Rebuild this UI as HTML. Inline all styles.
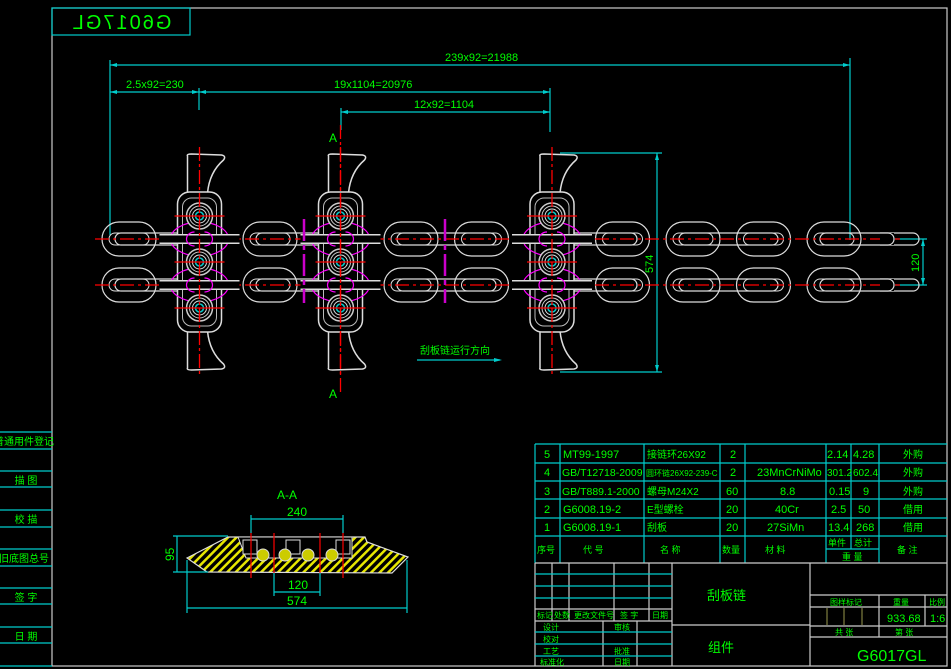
<!DOCTYPE html>
<html><head><meta charset="utf-8"><style>
html,body{margin:0;padding:0;background:#000;}
svg{display:block}
text{font-family:"Liberation Sans","Noto Sans CJK SC",sans-serif;fill:#00ff00;}
</style></head><body>
<svg width="951" height="669" viewBox="0 0 951 669" xmlns="http://www.w3.org/2000/svg">
<defs>
<pattern id="h" width="6" height="6" patternUnits="userSpaceOnUse" patternTransform="rotate(45)">
<rect width="6" height="6" fill="#000"/><rect width="2.5" height="6" fill="#e6e600"/></pattern>
<g id="ov"><rect x="-27" y="-17" width="54" height="34" rx="17" fill="none" stroke="#ddd" stroke-width="1.2"/><rect x="-20" y="-6" width="40" height="12" rx="6" fill="none" stroke="#ddd" stroke-width="1"/></g>
<g id="bar"><rect x="-14" y="-6" width="99" height="12" rx="6" fill="none" stroke="#ddd" stroke-width="1.2"/></g>
<g id="bolt"><circle r="13" fill="#000" stroke="#ccc" stroke-width="1.5"/><circle r="10" fill="none" stroke="#ccc"/><circle r="7" fill="none" stroke="#ddd"/><circle r="4" fill="none" stroke="#0cc" stroke-width="1.5"/><line x1="-25" y1="0" x2="25" y2="0" stroke="#f00" stroke-width="1.3"/></g>
<g id="sc">
<path d="M-12 -106 Q-13 -108 -8 -108 L22 -107 Q27 -106 24 -102 Q10 -90 8 -69 L-12 -69 Z" fill="#000" stroke="#ddd" stroke-width="1.5"/>
<path d="M-12 106 Q-13 108 -8 108 L22 107 Q27 106 24 102 Q10 90 8 69 L-12 69 Z" fill="#000" stroke="#ddd" stroke-width="1.5"/>
<rect x="-22" y="-70" width="44" height="140" rx="12" fill="#000" stroke="#ddd" stroke-width="1.5"/>
<rect x="-17" y="-64" width="34" height="128" rx="9" fill="none" stroke="#bbb"/>
<ellipse cx="0" cy="-23" rx="29" ry="17" fill="none" stroke="#f0f" stroke-width="1.2"/>
<ellipse cx="0" cy="23" rx="29" ry="17" fill="none" stroke="#f0f" stroke-width="1.2"/>
<line x1="-40" y1="-23" x2="40" y2="-23" stroke="#ddd" stroke-width="10"/>
<line x1="-40" y1="-23" x2="40" y2="-23" stroke="#000" stroke-width="7"/>
<line x1="-40" y1="23" x2="40" y2="23" stroke="#ddd" stroke-width="10"/>
<line x1="-40" y1="23" x2="40" y2="23" stroke="#000" stroke-width="7"/>
<path d="M-5 -30 A8 7 0 0 0 -5 -16 M5 -30 A8 7 0 0 1 5 -16 M-5 16 A8 7 0 0 0 -5 30 M5 16 A8 7 0 0 1 5 30" fill="none" stroke="#f0f" stroke-width="1.2"/>
<use href="#bolt" y="-46"/><use href="#bolt" y="0"/><use href="#bolt" y="46"/>
<line x1="0" y1="-115" x2="0" y2="115" stroke="#f00" stroke-width="1.3" stroke-dasharray="14 3 3 3"/>
</g>
</defs>
<rect x="52" y="8" width="895" height="658" fill="none" stroke="#ccc" stroke-width="1.2"/>
<rect x="52" y="8" width="138" height="27" fill="none" stroke="#0cc" stroke-width="1.2"/>
<text x="121" y="29" font-size="20" text-anchor="middle" transform="scale(-1,1) translate(-242,0)" style="letter-spacing:2px">G6017GL</text>
<g stroke="#0cc" stroke-width="1.2">
<line x1="0" y1="432" x2="52" y2="432"/><line x1="0" y1="449" x2="52" y2="449"/>
<line x1="0" y1="471" x2="52" y2="471"/><line x1="0" y1="487" x2="52" y2="487"/>
<line x1="0" y1="510" x2="52" y2="510"/><line x1="0" y1="527" x2="52" y2="527"/>
<line x1="0" y1="549" x2="52" y2="549"/><line x1="0" y1="566" x2="52" y2="566"/>
<line x1="0" y1="588" x2="52" y2="588"/><line x1="0" y1="604" x2="52" y2="604"/>
<line x1="0" y1="627" x2="52" y2="627"/><line x1="0" y1="643" x2="52" y2="643"/>
<line x1="0" y1="666" x2="52" y2="666"/>
</g>
<g font-size="10" text-anchor="middle">
<text x="24" y="445">普通用件登记</text><text x="26" y="484">描 图</text><text x="26" y="523">校 描</text>
<text x="24" y="562">旧底图总号</text><text x="26" y="601">签 字</text><text x="26" y="640">日 期</text>
</g>
<g stroke="#0cc" stroke-width="1.2" fill="none">
<line x1="110" y1="60" x2="110" y2="235"/><line x1="850" y1="58" x2="850" y2="240"/>
<line x1="110" y1="65" x2="850" y2="65"/>
<line x1="110" y1="92" x2="550" y2="92"/><line x1="199" y1="88" x2="199" y2="110"/>
<line x1="550" y1="88" x2="550" y2="132"/>
<line x1="341" y1="108" x2="341" y2="130"/><line x1="341" y1="112" x2="550" y2="112"/>
<line x1="560" y1="153" x2="662" y2="153"/><line x1="560" y1="372" x2="662" y2="372"/>
<line x1="657" y1="153" x2="657" y2="372"/>
<line x1="895" y1="239" x2="927" y2="239"/><line x1="895" y1="285" x2="927" y2="285"/>
<line x1="923" y1="239" x2="923" y2="285"/>
<line x1="417" y1="360" x2="500" y2="360"/>
</g>
<g fill="#0cc"><path d="M110 65 l7 -2 v4z M850 65 l-7 -2 v4z M110 92 l7 -2 v4z M199 92 l-7 -2 v4z M199 92 l7 -2 v4z M550 92 l-7 -2 v4z M341 112 l7 -2 v4z M550 112 l-7 -2 v4z M657 153 l-2 7 h4z M657 372 l-2 -7 h4z M923 239 l-2 7 h4z M923 285 l-2 -7 h4z M502 360 l-8 -2 v4z"/></g>
<g font-size="11">
<text x="445" y="61">239x92=21988</text>
<text x="126" y="88">2.5x92=230</text>
<text x="334" y="88">19x1104=20976</text>
<text x="414" y="108">12x92=1104</text>
<text x="0" y="0" transform="translate(653,273) rotate(-90)">574</text>
<text x="0" y="0" transform="translate(919,272) rotate(-90)">120</text>
<text x="420" y="354" font-size="10">刮板链运行方向</text>
<text x="329" y="142" font-size="12">A</text><text x="329" y="398" font-size="12">A</text>
</g>
<g>
<g transform="translate(0,239)">
<use href="#bar" x="129"/><use href="#bar" x="270"/><use href="#bar" x="411"/><use href="#bar" x="552"/><use href="#bar" x="693"/><use href="#bar" x="834"/>
<use href="#ov" x="129"/><use href="#ov" x="270"/><use href="#ov" x="411"/><use href="#ov" x="481.5"/><use href="#ov" x="622.5"/><use href="#ov" x="693"/><use href="#ov" x="763.5"/><use href="#ov" x="834"/>
<line x1="95" y1="0" x2="900" y2="0" stroke="#f00" stroke-dasharray="14 4 3 4" stroke-width="1.2"/>
</g>
<g transform="translate(0,285)">
<use href="#bar" x="129"/><use href="#bar" x="270"/><use href="#bar" x="411"/><use href="#bar" x="552"/><use href="#bar" x="693"/><use href="#bar" x="834"/>
<use href="#ov" x="129"/><use href="#ov" x="270"/><use href="#ov" x="411"/><use href="#ov" x="481.5"/><use href="#ov" x="622.5"/><use href="#ov" x="693"/><use href="#ov" x="763.5"/><use href="#ov" x="834"/>
<line x1="95" y1="0" x2="900" y2="0" stroke="#f00" stroke-dasharray="14 4 3 4" stroke-width="1.2"/>
</g>
<rect x="880" y="233" width="14" height="12" fill="#000"/><rect x="880" y="279" width="14" height="12" fill="#000"/>
<path d="M880 233 h8 a6 6 0 0 1 0 12 h-8 M880 279 h8 a6 6 0 0 1 0 12 h-8" fill="none" stroke="#ddd" stroke-width="1.2"/>
</g>
<use href="#sc" x="199.5" y="262"/><use href="#sc" x="340.5" y="262"/><use href="#sc" x="552" y="262"/>
<g stroke="#c0c" stroke-width="2.5" stroke-dasharray="22 4 5 4">
<line x1="304" y1="219" x2="304" y2="303"/><line x1="445" y1="219" x2="445" y2="303"/>
</g>
<line x1="340.5" y1="125" x2="340.5" y2="392" stroke="#f00" stroke-width="1.3" stroke-dasharray="14 3 3 3"/>
<text x="277" y="499" font-size="12">A-A</text>
<path d="M187 558 L228 537 L365 537 L367 542 L408 557 L392 573 L207 572 Z" fill="url(#h)" stroke="#ddd" stroke-width="1.2"/>
<path d="M238 537 L352 537 L352 558 L246 558 Z" fill="#000" stroke="#ddd"/>
<g fill="#000" stroke="#ddd">
<rect x="243" y="540" width="14" height="14"/><rect x="286" y="540" width="14" height="14"/><rect x="336" y="540" width="14" height="14"/>
</g>
<g fill="#cc0" stroke="#ddd"><circle cx="263" cy="555" r="6"/><circle cx="285" cy="555" r="6"/><circle cx="308" cy="555" r="6"/><circle cx="332" cy="555" r="6"/></g>
<g stroke="#f00" stroke-width="1.2"><line x1="251" y1="530" x2="251" y2="578"/><line x1="343" y1="530" x2="343" y2="578"/><line x1="274" y1="533" x2="274" y2="573"/><line x1="320" y1="533" x2="320" y2="573"/></g>
<g stroke="#0cc" stroke-width="1.2" fill="none">
<line x1="251" y1="515" x2="251" y2="533"/><line x1="343" y1="515" x2="343" y2="533"/><line x1="251" y1="519" x2="343" y2="519"/>
<line x1="274" y1="573" x2="274" y2="596"/><line x1="320" y1="573" x2="320" y2="596"/><line x1="274" y1="592" x2="320" y2="592"/>
<line x1="187" y1="560" x2="187" y2="613"/><line x1="407" y1="560" x2="407" y2="613"/><line x1="187" y1="608" x2="407" y2="608"/>
<line x1="173" y1="536" x2="228" y2="536"/><line x1="173" y1="572" x2="208" y2="572"/><line x1="177" y1="536" x2="177" y2="572"/>
</g>
<g font-size="12">
<text x="287" y="516">240</text><text x="288" y="589">120</text><text x="287" y="605">574</text>
<text x="0" y="0" transform="translate(174,561) rotate(-90)">95</text>
</g>
<g stroke="#0cc" stroke-width="1.2" fill="none">
<line x1="535" y1="444" x2="947" y2="444"/><line x1="535" y1="463" x2="947" y2="463"/>
<line x1="535" y1="481" x2="947" y2="481"/><line x1="535" y1="499" x2="947" y2="499"/>
<line x1="535" y1="518" x2="947" y2="518"/><line x1="535" y1="536" x2="947" y2="536"/>
<line x1="826" y1="549" x2="879" y2="549"/>
<line x1="535" y1="444" x2="535" y2="563"/><line x1="560" y1="444" x2="560" y2="563"/>
<line x1="644" y1="444" x2="644" y2="563"/><line x1="720" y1="444" x2="720" y2="563"/>
<line x1="745" y1="444" x2="745" y2="563"/><line x1="826" y1="444" x2="826" y2="563"/>
<line x1="851" y1="444" x2="851" y2="549"/><line x1="879" y1="444" x2="879" y2="563"/>
</g>
<g font-size="11">
<text x="544" y="458">5</text><text x="563" y="458">MT99-1997</text><text x="647" y="458" font-size="10">接链环26X92</text><text x="730" y="458">2</text><text x="827" y="458">2.14</text><text x="853" y="458">4.28</text><text x="903" y="458" font-size="10">外购</text>
<text x="544" y="476">4</text><text x="562" y="476" font-size="10.5">GB/T12718-2009</text><text x="646" y="476" font-size="8">圆环链26X92-239-C</text><text x="730" y="476">2</text><text x="757" y="476">23MnCrNiMo</text><text x="827" y="476" font-size="10">301.2</text><text x="853" y="476" font-size="10">602.4</text><text x="903" y="476" font-size="10">外购</text>
<text x="544" y="495">3</text><text x="562" y="495" font-size="10.5">GB/T889.1-2000</text><text x="647" y="495" font-size="10">螺母M24X2</text><text x="726" y="495">60</text><text x="780" y="495">8.8</text><text x="829" y="495">0.15</text><text x="863" y="495">9</text><text x="903" y="495" font-size="10">外购</text>
<text x="544" y="513">2</text><text x="563" y="513">G6008.19-2</text><text x="647" y="513" font-size="10">E型螺栓</text><text x="726" y="513">20</text><text x="775" y="513">40Cr</text><text x="831" y="513">2.5</text><text x="858" y="513">50</text><text x="903" y="513" font-size="10">借用</text>
<text x="544" y="531">1</text><text x="563" y="531">G6008.19-1</text><text x="647" y="531" font-size="10">刮板</text><text x="726" y="531">20</text><text x="767" y="531">27SiMn</text><text x="828" y="531">13.4</text><text x="856" y="531">268</text><text x="903" y="531" font-size="10">借用</text>
<g font-size="9"><text x="537" y="553">序号</text><text x="583" y="553">代  号</text><text x="660" y="553">名  称</text><text x="722" y="553">数量</text><text x="765" y="553">材  料</text><text x="828" y="546">单件</text><text x="854" y="546">总计</text><text x="842" y="560">重 量</text><text x="897" y="553">备 注</text></g>
</g>
<g stroke="#ccc" stroke-width="1.2" fill="none">
<line x1="535" y1="563" x2="947" y2="563"/>
<line x1="535" y1="563" x2="535" y2="666"/><line x1="672" y1="563" x2="672" y2="666"/><line x1="810" y1="563" x2="810" y2="666"/>
<line x1="672" y1="625" x2="810" y2="625"/>
<line x1="552" y1="563" x2="552" y2="621"/><line x1="569" y1="563" x2="569" y2="621"/><line x1="614" y1="563" x2="614" y2="621"/><line x1="649" y1="563" x2="649" y2="621"/>
<line x1="603" y1="621" x2="603" y2="666"/><line x1="637" y1="621" x2="637" y2="666"/>
<line x1="535" y1="609" x2="672" y2="609"/><line x1="535" y1="621" x2="672" y2="621"/>
<line x1="810" y1="595" x2="947" y2="595"/><line x1="810" y1="607" x2="947" y2="607"/><line x1="810" y1="626" x2="947" y2="626"/><line x1="810" y1="637" x2="947" y2="637"/>
<line x1="879" y1="595" x2="879" y2="637"/><line x1="925" y1="595" x2="925" y2="626"/>
</g>
<g stroke="#0cc" stroke-width="1.2"><line x1="535" y1="574" x2="672" y2="574"/><line x1="535" y1="586" x2="672" y2="586"/><line x1="535" y1="598" x2="672" y2="598"/><line x1="535" y1="632" x2="672" y2="632"/><line x1="535" y1="644" x2="672" y2="644"/><line x1="535" y1="656" x2="672" y2="656"/></g>
<g stroke="#663" stroke-width="1.5"><line x1="827" y1="608" x2="827" y2="625"/><line x1="844" y1="608" x2="844" y2="625"/><line x1="862" y1="608" x2="862" y2="625"/></g>
<g font-size="8">
<text x="537" y="618">标记</text><text x="554" y="618">处数</text><text x="574" y="618">更改文件号</text><text x="620" y="618">签 字</text><text x="652" y="618">日期</text>
<text x="543" y="630">设计</text><text x="614" y="630">审核</text><text x="543" y="642">校对</text><text x="543" y="654">工艺</text><text x="614" y="654">批准</text><text x="540" y="665">标准化</text><text x="614" y="665">日期</text>
<text x="830" y="605">图样标记</text><text x="893" y="605">重量</text><text x="929" y="605">比例</text>
<text x="835" y="635">共  张</text><text x="895" y="635">第  张</text>
</g>
<g font-size="11"><text x="887" y="622">933.68</text><text x="930" y="622">1:6</text></g>
<text x="707" y="600" font-size="13">刮板链</text>
<text x="708" y="652" font-size="13">组件</text>
<text x="857" y="661" font-size="16">G6017GL</text>
</svg>
</body></html>
